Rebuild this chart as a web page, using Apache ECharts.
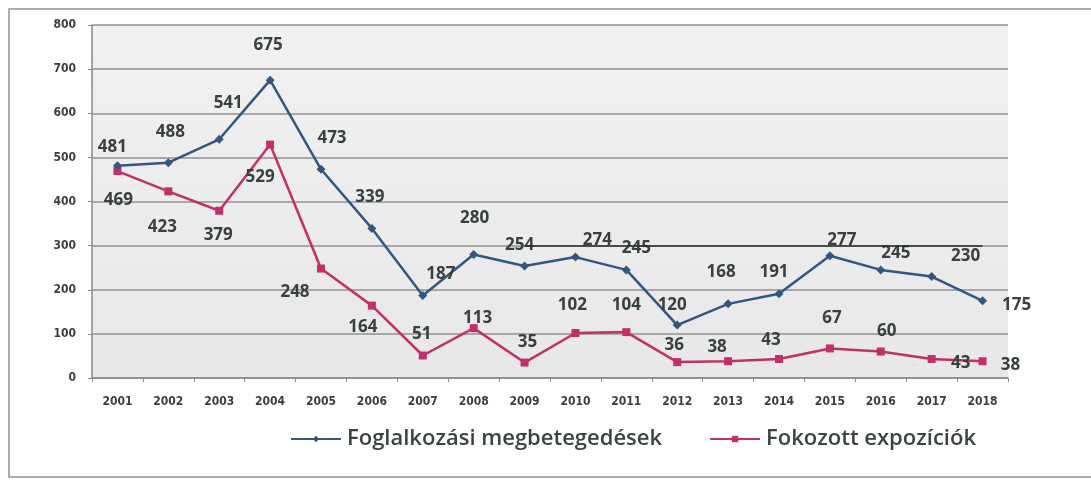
<!DOCTYPE html>
<html>
<head>
<meta charset="utf-8">
<script src="https://cdn.jsdelivr.net/npm/echarts@6/dist/echarts.min.js"></script>
<style>
  html, body { margin: 0; padding: 0; background: #fff; }
  #frame { position: absolute; left: 8px; top: 8px; width: 1100px; height: 470px; border: 2px solid #b3aaae; box-sizing: border-box; }
  #chart { position: absolute; left: 0; top: 0; width: 1091px; height: 480px; }
</style>
</head>
<body>
<div id="frame"></div>
<div id="chart"></div>
<script>
  // évek
  var years = ['2001','2002','2003','2004','2005','2006','2007','2008','2009','2010','2011','2012','2013','2014','2015','2016','2017','2018']
  // Foglalkozási megbetegedések
  var megbetegedesek = [481, 488, 541, 675, 473, 339, 187, 280, 254, 274, 245, 120, 168, 191, 277, 245, 230, 175]
  // Fokozott expozíciók
  var expoziciok = [469, 423, 379, 529, 248, 164, 51, 113, 35, 102, 104, 36, 38, 43, 67, 60, 43, 38]
  var yTicks = [0, 100, 200, 300, 400, 500, 600, 700, 800]

  // címkék eltolása a pontokhoz képest (px)
  var blueOffsets = [[-5,-19],[2,-31],[9,-36],[-2,-35],[11,-31],[-2,-31],[18,-21],[1,-36],[-5,-21],[22,-17],[10,-22],[-5,-20],[-7,-32],[-5,-22],[12,-16],[15,-17],[34,-20],[34,4]]
  var pinkOffsets = [[1,29],[-6,36],[-1,24],[-10,33],[-26,24],[-9,22],[-1,-21],[4,-10],[3,-20],[-3,-28],[0,-27],[-3,-17],[-11,-14],[-8,-19],[2,-30],[6,-20],[29,4],[28,4]]

  var blue = '#34567f'
  var pink = '#c2306a'
  var textColor = '#384040'

  function withLabels(values, offsets) {
    var out = []
    for (var i = 0; i < values.length; i++) {
      out.push({ value: values[i], label: { offset: offsets[i] } })
    }
    return out
  }

  var myChart = echarts.init(document.getElementById('chart'))
  myChart.setOption({
    animation: false,
    grid: {
      left: 92, right: 83, top: 25, bottom: 102,
      show: true,
      borderWidth: 0,
      backgroundColor: new echarts.graphic.LinearGradient(0, 0, 0, 1, [
        { offset: 0, color: '#f1f1f1' },
        { offset: 1, color: '#e8e8e8' }
      ])
    },
    legend: {
      left: 285, top: 423,
      itemWidth: 50, itemHeight: 8, itemGap: 47,
      textStyle: { fontFamily: 'Open Sans', fontWeight: 600, fontSize: 22, color: '#3c4343', padding: [0, 0, 0, 1] },
      data: ['Foglalkozási megbetegedések', 'Fokozott expozíciók']
    },
    xAxis: {
      type: 'category',
      data: years,
      boundaryGap: true,
      axisLine: { lineStyle: { color: '#8a8a8a', width: 1.5 } },
      axisTick: { show: true, length: 4, lineStyle: { color: '#8a8a8a' } },
      axisLabel: { margin: 18, fontFamily: 'DejaVu Sans Condensed', fontWeight: 'bold', fontSize: 12, color: textColor }
    },
    yAxis: {
      type: 'value',
      min: yTicks[0], max: yTicks[yTicks.length - 1], interval: 100,
      axisLine: { show: true, lineStyle: { color: '#8a8a8a', width: 1.5 } },
      axisTick: { show: true, length: 4, lineStyle: { color: '#8a8a8a' } },
      splitLine: { lineStyle: { color: '#909090', width: 1.5 } },
      axisLabel: { margin: 16, fontFamily: 'DejaVu Sans Condensed', fontWeight: 'bold', fontSize: 12, color: textColor }
    },
    series: [
      {
        name: 'Foglalkozási megbetegedések',
        type: 'line',
        data: withLabels(megbetegedesek, blueOffsets),
        symbol: 'diamond',
        symbolSize: 9,
        itemStyle: { color: blue },
        lineStyle: { color: blue, width: 2.5 },
        label: {
          show: true, position: 'inside',
          fontFamily: 'Open Sans', fontWeight: 'bold', fontSize: 17, color: textColor
        },
        markLine: {
          silent: true, symbol: 'none',
          label: { show: false },
          lineStyle: { color: '#2b2b2b', width: 1.5, type: 'solid' },
          data: [[{ coord: ['2009', 300] }, { coord: ['2018', 300] }]]
        },
        z: 3
      },
      {
        name: 'Fokozott expozíciók',
        type: 'line',
        data: withLabels(expoziciok, pinkOffsets),
        symbol: 'rect',
        symbolSize: 8,
        itemStyle: { color: pink },
        lineStyle: { color: pink, width: 2.5 },
        label: {
          show: true, position: 'inside',
          fontFamily: 'Open Sans', fontWeight: 'bold', fontSize: 17, color: textColor
        },
        z: 2
      }
    ]
  })
</script>
</body>
</html>
